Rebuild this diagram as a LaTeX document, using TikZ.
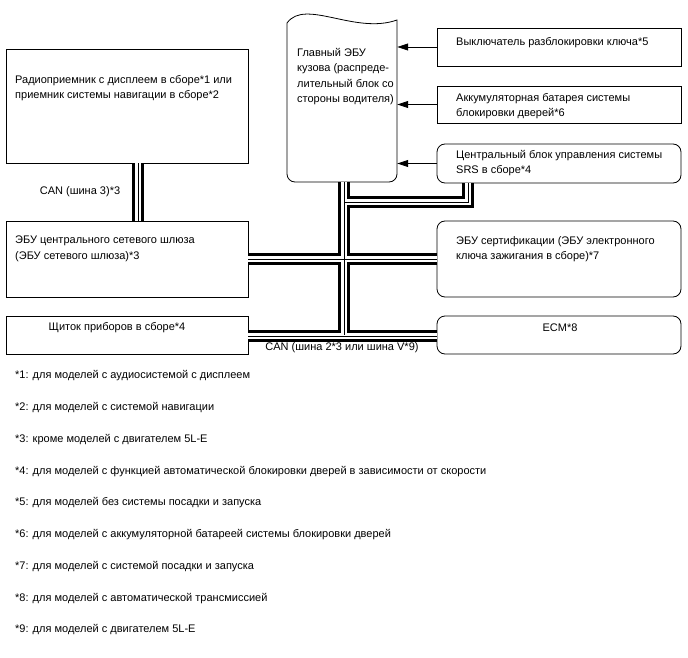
\documentclass[tikz,border=0pt]{standalone}
\usepackage{fontspec}
\setmainfont{Liberation Sans}
\usetikzlibrary{arrows.meta}

\begin{document}
\begin{tikzpicture}[x=1pt,y=-1pt,
  every node/.style={font=\fontsize{11}{15.5}\selectfont},
  box/.style={draw,line width=0.8pt,minimum width=242pt,inner sep=0pt},
  rbox/.style={box,rounded corners=8pt},
  txt/.style={anchor=north west,inner sep=0pt,align=left},
  feed/.style={line width=0.8pt,-{Triangle[length=11pt,width=7pt]}}]
  \useasboundingbox (0,0) rectangle (688,658);

  % Main body ECU
  \node[minimum width=110pt,minimum height=160pt,inner sep=0pt] (main) at (342,102) {};
  \draw[line width=0.8pt] (287,100) [rounded corners=8pt] -- (287,182) -- (397,182) -- (397,100)
    [sharp corners] -- (397,20) .. controls (355,35) and (305,-2) .. (287,23) -- cycle;
  \node[txt] (main-t) at (297,48) {Главный ЭБУ\\кузова (распреде-\\лительный блок со\\стороны водителя)};

  % Left column
  \node[box,minimum height=114pt] (radio) at (127,106) {};
  \node[box,minimum height=76pt] (gateway) at (127,259) {};
  \node[box,minimum height=38pt] (cluster) at (127,335) {};
  \node[txt] (radio-t) at (15,75) {Радиоприемник с дисплеем в сборе*1 или\\приемник системы навигации в сборе*2};
  \node[txt] (gateway-t) at (15,236) {ЭБУ центрального сетевого шлюза\\(ЭБУ сетевого шлюза)*3};
  \node (cluster-t) at (117,328) {Щиток приборов в сборе*4};

  % Right column
  \node[box,minimum width=244pt,minimum height=38pt] (keysw) at (559,47) {};
  \node[box,minimum width=244pt,minimum height=37pt] (battery) at (559,104.5) {};
  \node[rbox,minimum width=244pt,minimum height=39pt] (srs) at (559,163.5) {};
  \node[rbox,minimum width=244pt,minimum height=76pt] (cert) at (559,259) {};
  \node[rbox,minimum width=244pt,minimum height=38pt] (ecm) at (559,335) {};
  \node[txt] (keysw-t) at (456,37) {Выключатель разблокировки ключа*5};
  \node[txt] (battery-t) at (456,93) {Аккумуляторная батарея системы\\блокировки дверей*6};
  \node[txt] (srs-t) at (456,150) {Центральный блок управления системы\\SRS в сборе*4};
  \node[txt] (cert-t) at (456,236) {ЭБУ сертификации (ЭБУ электронного\\ключа зажигания в сборе)*7};
  \node (ecm-t) at (560,328) {ECM*8};

  % Inputs to main body ECU
  \foreach \src in {keysw,battery,srs} {
    \draw[feed] (\src.west) -- (\src.west -| main.east);
  }

  % CAN bus lines (outer, gap, core)
  \coordinate (trunk) at ([xshift=2pt]main.south);
  \coordinate (srsbend) at (468,202);
  \foreach \w/\c in {12/black,6/white,1/black} {
    \draw[line width=\w pt,\c,line cap=butt,line join=miter]
      ([xshift=11pt]radio.south) -- ([xshift=11pt]gateway.north)
      (gateway.east) -- (cert.west)
      ([yshift=-1pt]cluster.east) -- ([yshift=-1pt]ecm.west)
      (trunk) -- (trunk |- cluster.east)
      (srsbend -| trunk) -- (srsbend) -- (srsbend |- srs.south);
  }
  \node (can3) at (80,192) {CAN (шина 3)*3};
  \node (can2) at (342,348) {CAN (шина 2*3 или шина V*9)};

  % Notes
  \foreach \n/\t [count=\i from 0] in {
    1/для моделей с аудиосистемой с дисплеем,
    2/для моделей с системой навигации,
    3/кроме моделей с двигателем 5L-E,
    4/для моделей с функцией автоматической блокировки дверей в зависимости от скорости,
    5/для моделей без системы посадки и запуска,
    6/для моделей с аккумуляторной батареей системы блокировки дверей,
    7/для моделей с системой посадки и запуска,
    8/для моделей с автоматической трансмиссией,
    9/для моделей с двигателем 5L-E} {
    \node[anchor=west,inner sep=0pt] (note\n) at (15,376+31.75*\i) {*\n: \t};
  }
\end{tikzpicture}
\end{document}
